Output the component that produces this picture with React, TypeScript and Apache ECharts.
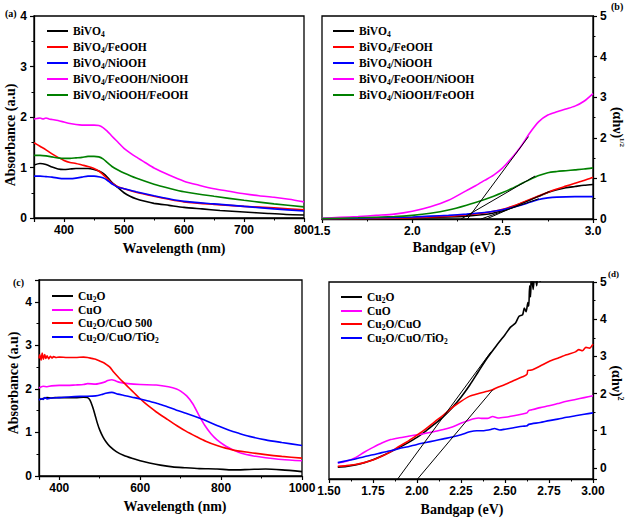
import React, { useEffect, useRef } from 'react';
import * as echarts from 'echarts';

// ---------- Panel (a): absorbance vs wavelength (BiVO4 series) ----------
const aNames = ['BiVO4', 'BiVO4/FeOOH', 'BiVO4/NiOOH', 'BiVO4/FeOOH/NiOOH', 'BiVO4/NiOOH/FeOOH'];
const aBiVO4: [number, number][] = [[350,1.05],[360,1.08],[370,1.06],[380,1.01],[390,0.97],[400,0.96],[410,0.97],[420,0.98],[430,0.98],[440,0.98],[450,0.96],[460,0.92],[468,0.86],[475,0.77],[482,0.68],[490,0.6],[500,0.5],[510,0.43],[520,0.38],[535,0.33],[550,0.29],[575,0.25],[600,0.21],[630,0.18],[660,0.15],[700,0.12],[740,0.09],[770,0.07],[800,0.06]];
const aFeOOH: [number, number][] = [[350,1.49],[360,1.42],[370,1.35],[380,1.27],[390,1.2],[400,1.14],[410,1.1],[420,1.08],[430,1.05],[440,1.02],[450,0.98],[458,0.93],[465,0.86],[472,0.78],[480,0.69],[490,0.62],[500,0.58],[520,0.51],[550,0.43],[575,0.37],[600,0.32],[650,0.27],[700,0.23],[750,0.2],[800,0.16]];
const aNiOOH: [number, number][] = [[350,0.83],[360,0.83],[370,0.82],[380,0.81],[390,0.79],[400,0.78],[410,0.78],[420,0.79],[430,0.81],[440,0.83],[450,0.83],[460,0.81],[468,0.78],[475,0.72],[482,0.66],[490,0.61],[500,0.58],[520,0.52],[550,0.44],[575,0.38],[600,0.33],[650,0.28],[700,0.23],[750,0.18],[800,0.14]];
const aFeNi: [number, number][] = [[350,1.96],[355,1.97],[360,1.98],[365,1.96],[370,1.98],[375,1.96],[380,1.95],[390,1.93],[400,1.9],[410,1.87],[420,1.85],[430,1.84],[440,1.84],[450,1.84],[458,1.83],[465,1.79],[472,1.72],[480,1.62],[490,1.5],[500,1.38],[510,1.29],[520,1.21],[535,1.1],[550,0.99],[575,0.85],[600,0.73],[625,0.65],[650,0.58],[675,0.53],[700,0.48],[725,0.44],[750,0.41],[775,0.37],[800,0.32]];
const aNiFe: [number, number][] = [[350,1.24],[360,1.24],[370,1.23],[380,1.21],[390,1.19],[400,1.18],[410,1.18],[420,1.19],[430,1.2],[440,1.22],[450,1.22],[458,1.21],[465,1.17],[472,1.1],[480,1.02],[490,0.95],[500,0.89],[520,0.79],[550,0.67],[575,0.59],[600,0.52],[650,0.43],[700,0.35],[750,0.28],[800,0.22]];

// ---------- Panel (b): (αhν)^1/2 vs bandgap ----------
const bBiVO4: [number, number][] = [[1.5,0],[1.7,0.01],[1.9,0.02],[2.0,0.03],[2.1,0.04],[2.2,0.05],[2.3,0.07],[2.4,0.11],[2.45,0.15],[2.5,0.21],[2.55,0.29],[2.6,0.38],[2.65,0.47],[2.7,0.56],[2.75,0.65],[2.8,0.72],[2.85,0.77],[2.9,0.8],[2.95,0.83],[3.0,0.85]];
const bFeOOH: [number, number][] = [[1.5,0],[1.7,0.01],[1.9,0.02],[2.0,0.03],[2.1,0.05],[2.2,0.07],[2.3,0.1],[2.4,0.15],[2.45,0.19],[2.5,0.24],[2.55,0.31],[2.6,0.39],[2.65,0.48],[2.7,0.57],[2.75,0.66],[2.8,0.74],[2.85,0.81],[2.9,0.88],[2.95,0.95],[3.0,1.03]];
const bNiOOH: [number, number][] = [[1.5,0.01],[1.7,0.02],[1.9,0.04],[2.0,0.05],[2.1,0.07],[2.2,0.09],[2.3,0.12],[2.4,0.16],[2.45,0.19],[2.5,0.23],[2.55,0.28],[2.6,0.34],[2.65,0.41],[2.7,0.48],[2.75,0.52],[2.8,0.54],[2.9,0.55],[3.0,0.55]];
const bFeNi: [number, number][] = [[1.5,0.02],[1.6,0.04],[1.7,0.06],[1.8,0.09],[1.9,0.12],[2.0,0.19],[2.1,0.3],[2.2,0.46],[2.3,0.7],[2.35,0.82],[2.4,0.95],[2.45,1.08],[2.5,1.26],[2.55,1.5],[2.6,1.78],[2.65,2.12],[2.7,2.4],[2.75,2.56],[2.8,2.64],[2.85,2.71],[2.9,2.78],[2.95,2.9],[3.0,3.09]];
const bNiFe: [number, number][] = [[1.5,0.01],[1.7,0.03],[1.9,0.06],[2.0,0.09],[2.1,0.14],[2.2,0.22],[2.3,0.34],[2.4,0.48],[2.45,0.56],[2.5,0.65],[2.55,0.75],[2.6,0.86],[2.65,0.97],[2.7,1.07],[2.75,1.14],[2.8,1.17],[2.85,1.19],[2.9,1.21],[2.95,1.23],[3.0,1.26]];
const bFit1: [number, number][] = [[2.305,0],[2.643,2.03]];
const bFit2: [number, number][] = [[2.27,0],[2.68,1.06]];
const bFit3: [number, number][] = [[2.41,0],[2.76,0.68]];
const bFit4: [number, number][] = [[2.38,0],[2.7,0.5]];

// ---------- Panel (c): absorbance vs wavelength (Cu oxides) ----------
const cNames = ['Cu2O', 'CuO', 'Cu2O/CuO 500', 'Cu2O/CuO/TiO2'];
const cCu2O: [number, number][] = [[350,1.75],[360,1.78],[370,1.8],[380,1.79],[390,1.8],[400,1.8],[420,1.8],[440,1.8],[460,1.81],[470,1.8],[476,1.74],[482,1.6],[488,1.42],[494,1.22],[500,1.06],[508,0.9],[516,0.78],[525,0.68],[541,0.56],[560,0.47],[582,0.4],[600,0.35],[623,0.3],[650,0.25],[680,0.21],[710,0.19],[746,0.17],[790,0.16],[828,0.14],[870,0.15],[910,0.16],[950,0.14],[1000,0.1]];
const cCuO: [number, number][] = [[350,2.02],[360,2.06],[370,2.05],[380,2.07],[400,2.08],[420,2.08],[440,2.09],[460,2.1],[470,2.12],[490,2.11],[510,2.15],[520,2.19],[530,2.21],[540,2.18],[550,2.15],[570,2.12],[600,2.1],[640,2.09],[670,2.05],[690,2.0],[700,1.95],[715,1.84],[730,1.66],[745,1.4],[760,1.16],[775,0.97],[790,0.83],[811,0.69],[830,0.6],[850,0.52],[880,0.46],[910,0.42],[950,0.38],[1000,0.35]];
const cCuOx500: [number, number][] = [[350,2.7],[352,2.78],[355,2.66],[358,2.82],[361,2.68],[364,2.79],[367,2.7],[370,2.76],[374,2.69],[378,2.75],[382,2.71],[386,2.74],[392,2.72],[400,2.73],[420,2.72],[440,2.72],[460,2.73],[470,2.72],[480,2.7],[490,2.68],[500,2.64],[510,2.6],[518,2.55],[525,2.5],[535,2.38],[549,2.24],[562,2.12],[574,2.01],[586,1.9],[598,1.79],[610,1.69],[623,1.59],[640,1.47],[664,1.32],[690,1.16],[713,1.03],[740,0.9],[762,0.8],[790,0.7],[828,0.6],[870,0.54],[910,0.49],[950,0.45],[1000,0.41]];
const cTiO2: [number, number][] = [[350,1.74],[355,1.78],[360,1.76],[365,1.8],[370,1.77],[380,1.79],[400,1.8],[430,1.82],[460,1.83],[490,1.84],[505,1.87],[515,1.9],[530,1.92],[545,1.88],[560,1.85],[580,1.81],[600,1.77],[620,1.72],[645,1.66],[664,1.6],[690,1.51],[713,1.44],[746,1.33],[770,1.24],[795,1.14],[820,1.05],[844,0.98],[870,0.91],[910,0.83],[950,0.77],[1000,0.7]];

// ---------- Panel (d): (αhν)^2 vs bandgap ----------
const dNames = ['Cu2O', 'CuO', 'Cu2O/CuO', 'Cu2O/CuO/TiO2'];
const dCu2O: [number, number][] = [[1.55,0.02],[1.6,0.04],[1.65,0.08],[1.7,0.14],[1.75,0.22],[1.8,0.32],[1.85,0.43],[1.9,0.55],[1.95,0.68],[2.0,0.82],[2.05,0.99],[2.1,1.18],[2.15,1.38],[2.2,1.62],[2.25,1.9],[2.3,2.23],[2.35,2.6],[2.4,2.96],[2.45,3.28],[2.5,3.58],[2.53,3.78],[2.56,3.9],[2.58,4.08],[2.6,4.12],[2.61,4.3],[2.62,4.2],[2.63,4.45],[2.635,4.35],[2.64,4.9],[2.645,4.6],[2.65,5.2],[2.66,4.8],[2.67,5.3],[2.68,4.9],[2.69,5.3],[2.7,5.0]];
const dCuO: [number, number][] = [[1.55,0.13],[1.6,0.18],[1.65,0.27],[1.7,0.42],[1.75,0.55],[1.8,0.67],[1.85,0.76],[1.9,0.81],[1.95,0.85],[2.0,0.89],[2.05,0.93],[2.1,0.98],[2.15,1.03],[2.2,1.1],[2.25,1.2],[2.3,1.29],[2.35,1.34],[2.37,1.33],[2.4,1.33],[2.43,1.38],[2.46,1.34],[2.5,1.36],[2.55,1.4],[2.6,1.45],[2.625,1.48],[2.635,1.54],[2.65,1.56],[2.7,1.62],[2.75,1.67],[2.8,1.73],[2.85,1.79],[2.9,1.84],[2.95,1.89],[3.0,1.94]];
const dCuOx: [number, number][] = [[1.55,0.04],[1.6,0.06],[1.65,0.09],[1.7,0.14],[1.75,0.21],[1.8,0.31],[1.85,0.43],[1.9,0.58],[1.95,0.72],[2.0,0.88],[2.05,1.05],[2.1,1.24],[2.15,1.42],[2.2,1.62],[2.25,1.79],[2.3,1.93],[2.35,2.0],[2.4,2.06],[2.43,2.1],[2.45,2.15],[2.5,2.24],[2.55,2.35],[2.6,2.45],[2.625,2.52],[2.63,2.62],[2.65,2.63],[2.7,2.74],[2.75,2.86],[2.8,2.95],[2.85,3.04],[2.9,3.12],[2.92,3.18],[2.94,3.15],[2.96,3.24],[2.98,3.22],[3.0,3.33]];
const dTiO2: [number, number][] = [[1.55,0.14],[1.6,0.19],[1.65,0.24],[1.7,0.3],[1.75,0.35],[1.8,0.41],[1.85,0.46],[1.9,0.52],[1.95,0.57],[2.0,0.63],[2.05,0.68],[2.1,0.73],[2.15,0.78],[2.2,0.83],[2.25,0.89],[2.3,0.97],[2.34,1.0],[2.38,1.0],[2.42,1.03],[2.44,1.06],[2.47,1.02],[2.5,1.04],[2.55,1.08],[2.6,1.12],[2.625,1.13],[2.635,1.17],[2.7,1.22],[2.75,1.27],[2.8,1.31],[2.85,1.36],[2.9,1.4],[2.95,1.44],[3.0,1.48]];
const dFit1: [number, number][] = [[1.87,-0.43],[2.42,3.12]];
const dFit2: [number, number][] = [[1.98,-0.43],[2.43,2.1]];

const BLACK = '#000000', RED = '#ff0000', BLUE = '#0000ff', MAGENTA = '#ff00ff', GREEN = '#008000';
const SERIF = '"Liberation Serif", "Times New Roman", serif';
const SANS = '"Liberation Sans", Arial, sans-serif';

function richName(name: string): string {
  let out = '';
  const re = /([A-Za-z])(\d+)/g;
  let last = 0;
  let m: RegExpExecArray | null;
  while ((m = re.exec(name))) {
    const idx = m.index + 1;
    out += `{n|${name.slice(last, idx)}}{s|${m[2]}}`;
    last = idx + m[2].length;
  }
  if (last < name.length) out += `{n|${name.slice(last)}}`;
  return out;
}

const legendRich = {
  n: { fontFamily: SERIF, fontWeight: 'bold', fontSize: 11.5, color: '#000', lineHeight: 14 },
  s: { fontFamily: SERIF, fontWeight: 'bold', fontSize: 7.5, color: '#000', lineHeight: 6, verticalAlign: 'bottom' },
};

function mkLegend(left: number, top: number, data: string[], gap: number) {
  return {
    left, top, orient: 'vertical', itemGap: gap, itemWidth: 21, itemHeight: 2,
    icon: 'rect',
    data, formatter: richName, selectedMode: false,
    textStyle: { rich: legendRich, padding: [0, 0, 0, 0] },
  };
}

const axisLabelStyle = { fontFamily: SANS, fontWeight: 'bold', fontSize: 12, color: '#000' };

function xAxisCfg(grid: number, min: number, max: number, fmt: (v: number) => string, interval?: number, split?: number) {
  const c: any = {
    type: 'value', gridIndex: grid, min, max,
    axisLine: { show: true, onZero: false, lineStyle: { color: '#000', width: 1.3 } },
    axisTick: { show: true, inside: false, length: 4, lineStyle: { color: '#000', width: 1.2 } },
    minorTick: { show: true, splitNumber: 2, length: 2.5, lineStyle: { color: '#000', width: 1 } },
    splitLine: { show: false },
    axisLabel: { ...axisLabelStyle, margin: 6, formatter: fmt },
  };
  if (interval !== undefined) c.interval = interval;
  if (split !== undefined) c.splitNumber = split;
  return c;
}

function yAxisCfg(grid: number, min: number, max: number, position: string, fmt: (v: number) => string, interval?: number, split?: number) {
  const c: any = {
    type: 'value', gridIndex: grid, min, max, position,
    axisLine: { show: true, onZero: false, lineStyle: { color: '#000', width: 1.3 } },
    axisTick: { show: true, inside: false, length: 4, lineStyle: { color: '#000', width: 1.2 } },
    minorTick: { show: true, splitNumber: 2, length: 2.5, lineStyle: { color: '#000', width: 1 } },
    splitLine: { show: false },
    axisLabel: { ...axisLabelStyle, margin: 7, formatter: fmt },
  };
  if (interval !== undefined) c.interval = interval;
  if (split !== undefined) c.splitNumber = split;
  return c;
}

const intFmt = (v: number) => (Math.abs(v - Math.round(v)) < 1e-9 ? String(Math.round(v)) : '');

function line(name: string, data: [number, number][], color: string, idx: number, smooth: number | boolean = 0.25, width = 1.6) {
  return {
    type: 'line', name, data, xAxisIndex: idx, yAxisIndex: idx,
    symbol: 'none', showSymbol: false, smooth, clip: true,
    lineStyle: { color, width }, itemStyle: { color },
    emphasis: { disabled: true }, silent: true,
  };
}

function fit(data: [number, number][], idx: number) {
  return line('fit', data, BLACK, idx, false, 1);
}

const titleFont = `bold 14px ${SERIF}`;

export default function App() {
  const ref = useRef<HTMLDivElement>(null);
  useEffect(() => {
    if (!ref.current) return;
    const chart = echarts.init(ref.current, undefined, { renderer: 'svg' });
    const option: any = {
      animation: false,
      backgroundColor: '#ffffff',
      grid: [
        { left: 34, top: 16, width: 270, height: 202, show: true, borderColor: '#000', borderWidth: 1.3, backgroundColor: 'transparent' },
        { left: 322, top: 16, width: 271, height: 203, show: true, borderColor: '#000', borderWidth: 1.3, backgroundColor: 'transparent' },
        { left: 39, top: 280, width: 263, height: 196, show: true, borderColor: '#000', borderWidth: 1.3, backgroundColor: 'transparent' },
        { left: 329, top: 282, width: 264, height: 197, show: true, borderColor: '#000', borderWidth: 1.3, backgroundColor: 'transparent' },
      ],
      xAxis: [
        xAxisCfg(0, 350, 800, (v) => (v % 100 === 0 ? String(v) : ''), undefined, 5),
        xAxisCfg(1, 1.5, 3.0, (v) => v.toFixed(1), 0.5),
        xAxisCfg(2, 350, 1000, (v) => (v % 200 === 0 ? String(v) : ''), undefined, 3),
        xAxisCfg(3, 1.5, 3.0, (v) => v.toFixed(2), 0.25),
      ],
      yAxis: [
        yAxisCfg(0, 0, 4, 'left', intFmt, 1),
        yAxisCfg(1, 0, 5, 'right', intFmt, 1),
        yAxisCfg(2, 0, 4.5, 'left', intFmt, 1),
        yAxisCfg(3, -0.3, 5, 'right', intFmt, undefined, 5),
      ],
      legend: [
        mkLegend(42, 20, aNames, 3),
        mkLegend(328, 20, aNames, 3),
        mkLegend(47, 285, cNames, 1),
        mkLegend(336, 286, dNames, 1),
      ],
      series: [
        line('BiVO4', aBiVO4, BLACK, 0),
        line('BiVO4/FeOOH', aFeOOH, RED, 0),
        line('BiVO4/NiOOH', aNiOOH, BLUE, 0),
        line('BiVO4/FeOOH/NiOOH', aFeNi, MAGENTA, 0),
        line('BiVO4/NiOOH/FeOOH', aNiFe, GREEN, 0),

        line('BiVO4', bBiVO4, BLACK, 1),
        line('BiVO4/FeOOH', bFeOOH, RED, 1),
        line('BiVO4/NiOOH', bNiOOH, BLUE, 1),
        line('BiVO4/FeOOH/NiOOH', bFeNi, MAGENTA, 1),
        line('BiVO4/NiOOH/FeOOH', bNiFe, GREEN, 1),
        fit(bFit1, 1), fit(bFit2, 1), fit(bFit3, 1), fit(bFit4, 1),

        line('Cu2O', cCu2O, BLACK, 2),
        line('CuO', cCuO, MAGENTA, 2),
        line('Cu2O/CuO 500', cCuOx500, RED, 2),
        line('Cu2O/CuO/TiO2', cTiO2, BLUE, 2),

        line('Cu2O', dCu2O, BLACK, 3),
        line('CuO', dCuO, MAGENTA, 3),
        line('Cu2O/CuO', dCuOx, RED, 3),
        line('Cu2O/CuO/TiO2', dTiO2, BLUE, 3),
        fit(dFit1, 3), fit(dFit2, 3),
      ],
      graphic: [
        { type: 'text', x: 5, y: 13, style: { text: '(a)', font: `bold 10px ${SERIF}`, fill: '#000', textVerticalAlign: 'middle' } },
        { type: 'text', x: 611, y: 6, style: { text: '(b)', font: `bold 10px ${SERIF}`, fill: '#000', textVerticalAlign: 'middle' } },
        { type: 'text', x: 13, y: 282, style: { text: '(c)', font: `bold 10px ${SERIF}`, fill: '#000', textVerticalAlign: 'middle' } },
        { type: 'text', x: 608, y: 274, style: { text: '(d)', font: `bold 9px ${SERIF}`, fill: '#000', textVerticalAlign: 'middle' } },

        { type: 'text', x: 174, y: 248, style: { text: 'Wavelength (nm)', font: titleFont, fill: '#000', textAlign: 'center', textVerticalAlign: 'middle' } },
        { type: 'text', x: 10, y: 135, rotation: Math.PI / 2, style: { text: 'Absorbance (a.u)', font: titleFont, fill: '#000', textAlign: 'center', textVerticalAlign: 'middle' } },
        { type: 'text', x: 454, y: 247, style: { text: 'Bandgap (eV)', font: titleFont, fill: '#000', textAlign: 'center', textVerticalAlign: 'middle' } },
        { type: 'text', x: 617, y: 127, rotation: -Math.PI / 2, style: { text: '{n|(αhν)}{p|1/2}', textAlign: 'center', textVerticalAlign: 'middle', rich: {
          n: { font: titleFont, fill: '#000', lineHeight: 16 },
          p: { font: `bold 7px ${SERIF}`, fill: '#000', lineHeight: 16, verticalAlign: 'top' } } } },

        { type: 'text', x: 175, y: 506, style: { text: 'Wavelength (nm)', font: titleFont, fill: '#000', textAlign: 'center', textVerticalAlign: 'middle' } },
        { type: 'text', x: 13, y: 383, rotation: Math.PI / 2, style: { text: 'Absorbance (a.u)', font: titleFont, fill: '#000', textAlign: 'center', textVerticalAlign: 'middle' } },
        { type: 'text', x: 462, y: 509, style: { text: 'Bandgap (eV)', font: titleFont, fill: '#000', textAlign: 'center', textVerticalAlign: 'middle' } },
        { type: 'text', x: 616, y: 383, rotation: -Math.PI / 2, style: { text: '{n|(αhν)}{p|2}', textAlign: 'center', textVerticalAlign: 'middle', rich: {
          n: { font: titleFont, fill: '#000', lineHeight: 16 },
          p: { font: `bold 8px ${SERIF}`, fill: '#000', lineHeight: 16, verticalAlign: 'top' } } } },
      ],
    };
    chart.setOption(option);
    return () => chart.dispose();
  }, []);
  return (
    <div
      ref={ref}
      style={{ position: 'fixed', left: 0, top: 0, width: 638, height: 518, background: '#fff' }}
    />
  );
}
